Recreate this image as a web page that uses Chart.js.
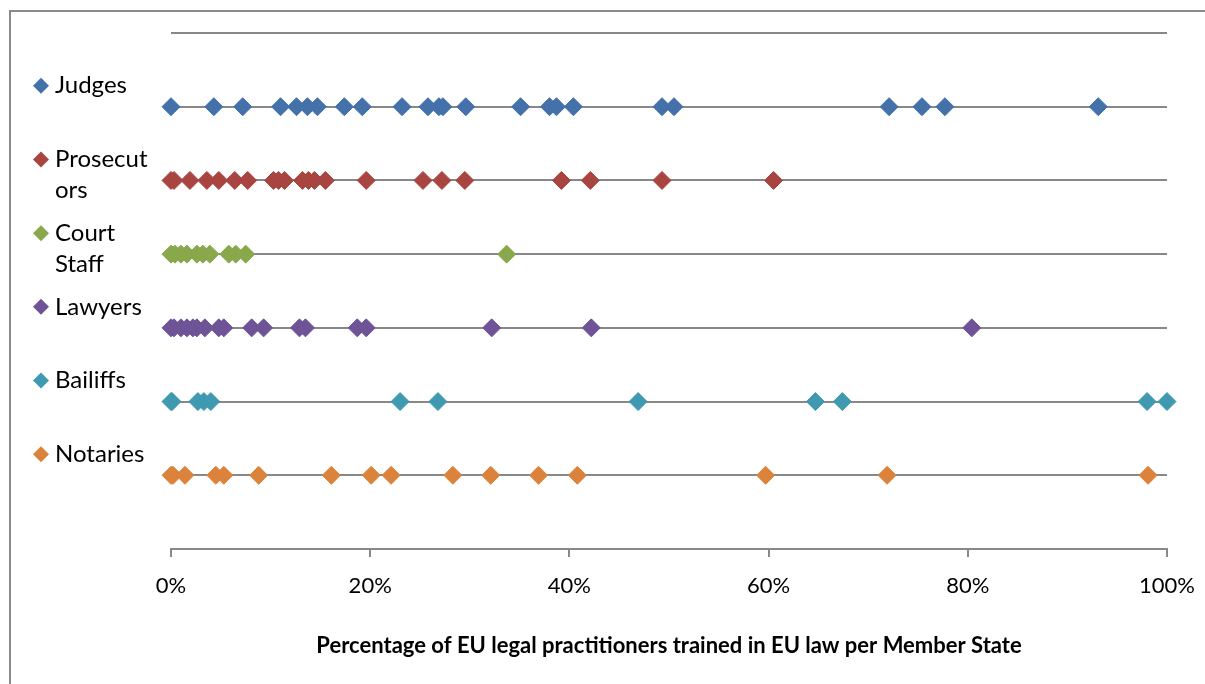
<!DOCTYPE html>
<html lang="en">
<head>
<meta charset="UTF-8">
<title>EU legal practitioners trained in EU law</title>
<style>
  html, body { margin: 0; padding: 0; background: #fff; overflow: hidden; }
  .wrap { position: relative; width: 1205px; height: 684px; overflow: hidden; }
  .frame {
    position: absolute; left: 9px; top: 10px; width: 1300px; height: 800px;
    border-left: 2px solid #8a8a8a; border-top: 2px solid #8a8a8a;
  }
  canvas { position: absolute; left: 0; top: 0; }
</style>
</head>
<body>
<div class="wrap">
  <div class="frame"></div>
  <canvas id="chart" width="1205" height="684"></canvas>
</div>

<script src="https://cdn.jsdelivr.net/npm/chart.js"></script>
<script>
// series names, wrapped the way the side legend shows them
const seriesNames = ['Judges', 'Prosecutors', 'Court Staff', 'Lawyers', 'Bailiffs', 'Notaries'];
const legendLines = [['Judges'], ['Prosecut', 'ors'], ['Court', 'Staff'], ['Lawyers'], ['Bailiffs'], ['Notaries']];
const rowLevels = [6, 5, 4, 3, 2, 1];
const gridLevels = [0, 1, 2, 3, 4, 5, 6, 7];
const xTicks = [0, 20, 40, 60, 80, 100];

// % of practitioners trained, one value per Member State
const judges = [0, 4.3, 7.2, 11.0, 12.6, 13.7, 14.7, 17.4, 19.2, 23.2, 25.8, 26.9, 27.3, 29.6, 35.1, 38.0, 38.7, 40.4, 49.3, 50.5, 72.1, 75.4, 77.7, 93.1];
const prosecutors = [0, 0.3, 1.9, 3.6, 4.8, 6.4, 7.7, 10.3, 10.8, 11.4, 13.2, 13.8, 14.4, 15.5, 19.6, 25.3, 27.2, 29.5, 39.2, 42.1, 49.3, 60.5];
const courtStaff = [0, 0.4, 1.0, 1.6, 2.6, 3.2, 3.9, 5.8, 6.5, 7.5, 33.7];
const lawyers = [0, 0.3, 1.0, 1.6, 2.2, 2.6, 3.4, 4.8, 5.3, 8.1, 9.3, 12.9, 13.5, 18.7, 19.6, 32.2, 42.2, 80.4];
const bailiffs = [0, 0.1, 2.7, 3.3, 4.0, 23.0, 26.8, 46.9, 64.7, 67.4, 98.0, 100];
const notaries = [0, 0.2, 1.4, 4.5, 5.3, 8.8, 16.1, 20.1, 22.1, 28.3, 32.1, 36.9, 40.8, 59.7, 71.9, 98.1];

const seriesValues = [judges, prosecutors, courtStaff, lawyers, bailiffs, notaries];
const colors = ['#4471aa', '#a94541', '#89a84c', '#6e5497', '#3f99b0', '#db833b'];
const gridColor = '#888888';
const fontFamily = 'Lato, "Open Sans", sans-serif';

// legend drawn down the left side, one entry per row
const sideLegend = {
    id: 'sideLegend',
    afterDraw(chart) {
        const ctx = chart.ctx;
        const yScale = chart.scales.y;
        ctx.save();
        ctx.font = '24px ' + fontFamily;
        ctx.textBaseline = 'middle';
        ctx.textAlign = 'left';
        seriesNames.forEach((name, i) => {
            const y = yScale.getPixelForValue(rowLevels[i]) - 21;
            const cx = 41, r = 8;
            ctx.fillStyle = colors[i];
            ctx.beginPath();
            ctx.moveTo(cx - r, y);
            ctx.lineTo(cx, y - r);
            ctx.lineTo(cx + r, y);
            ctx.lineTo(cx, y + r);
            ctx.closePath();
            ctx.fill();
            ctx.fillStyle = '#000';
            legendLines[i].forEach((line, k) => ctx.fillText(line, 55, y + k * 31));
        });
        ctx.restore();
    }
};

const datasets = seriesNames.map((name, i) => ({
    label: name,
    data: seriesValues[i].map(v => ({ x: v, y: rowLevels[i] })),
    showLine: false,
    pointStyle: 'rectRot',
    pointRadius: 9,
    pointHoverRadius: 9,
    borderWidth: 1,
    backgroundColor: colors[i],
    borderColor: colors[i],
    clip: false
}));

new Chart(document.getElementById('chart'), {
    type: 'scatter',
    data: { datasets: datasets },
    options: {
        responsive: false,
        animation: false,
        devicePixelRatio: 1,
        layout: { padding: { left: 171, right: 38, top: 33, bottom: 25 } },
        plugins: {
            legend: { display: false },
            tooltip: { enabled: false }
        },
        scales: {
            x: {
                type: 'linear',
                min: 0,
                max: 100,
                afterBuildTicks: s => { s.ticks = xTicks.map(v => ({ value: v })); },
                afterFit: s => { s.height = 110; s.paddingLeft = 0; s.paddingRight = 0; },
                ticks: {
                    callback: v => v + '%',
                    font: { family: fontFamily, size: 22 },
                    color: '#000',
                    padding: 16,
                    maxRotation: 0,
                    autoSkip: false
                },
                grid: { drawOnChartArea: false, drawTicks: true, tickLength: 8, color: gridColor, lineWidth: 2 },
                border: { display: true, color: gridColor, width: 2 },
                title: {
                    display: true,
                    text: 'Percentage of EU legal practitioners trained in EU law per Member State',
                    font: { family: fontFamily, size: 22, weight: 'bold' },
                    color: '#000',
                    padding: 0
                }
            },
            y: {
                type: 'linear',
                min: 0,
                max: 7,
                afterBuildTicks: s => { s.ticks = gridLevels.map(v => ({ value: v })); },
                afterFit: s => { s.width = 0; },
                ticks: { display: false },
                grid: { color: gridColor, lineWidth: 2, drawTicks: false },
                border: { display: false }
            }
        }
    },
    plugins: [sideLegend]
});
</script>
</body>
</html>
